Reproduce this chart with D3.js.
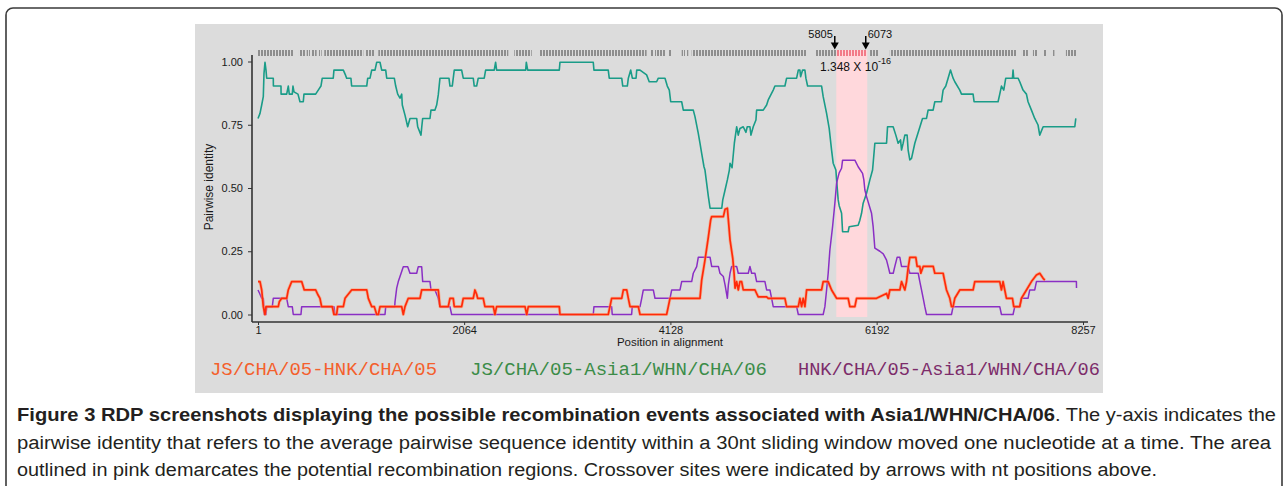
<!DOCTYPE html>
<html><head><meta charset="utf-8">
<script src="https://cdn.jsdelivr.net/npm/d3@7"></script>
<style>html,body{margin:0;padding:0;background:#fff;}svg{display:block;}</style>
</head><body>
<svg id="chart" width="1287" height="486"></svg>
<script>
// ---------- DATA ----------
const xTicks = [1, 2064, 4128, 6192, 8257];
const yTicks = [0, 0.25, 0.5, 0.75, 1.0];
const seriesNames = ["JS/CHA/05-HNK/CHA/05", "JS/CHA/05-Asia1/WHN/CHA/06", "HNK/CHA/05-Asia1/WHN/CHA/06"];
const breakpoints = [5805, 6073];
const regionSpan = [5788, 6098];
const pValueText = "1.348 X 10";
const pValueExp = "-16";
// informative-site clusters along the top track [start, end] in nt
const siteClusters = [[1,354],[411,471],[488,521],[538,588],[611,638],[664,1055],[1079,1172],[1205,2506],[2566,2740],[2813,3890],[3924,3957],[3974,4074],[4107,4141],[4241,4274],[4291,4307],[4341,5492],[5575,5792],[5792,6092],[6126,6209],[6324,7596],[7646,7706],[7756,7806],[7866,7896],[7956,7966],[8086,8196]];
// JS/CHA/05 - Asia1/WHN/CHA/06 (teal)
const tealSeries = [[1,0.775],[21,0.795],[38,0.828],[54,0.861],[61,0.953],[71,0.997],[81,0.966],[88,0.934],[154,0.934],[155,0.903],[231,0.903],[232,0.871],[288,0.871],[304,0.903],[314,0.871],[344,0.871],[351,0.903],[361,0.88],[401,0.871],[421,0.841],[454,0.841],[461,0.871],[578,0.871],[604,0.887],[631,0.903],[644,0.934],[754,0.934],[761,0.966],[855,0.966],[878,0.945],[888,0.934],[931,0.934],[938,0.903],[1089,0.903],[1099,0.934],[1122,0.934],[1139,0.966],[1172,0.966],[1189,0.997],[1222,0.997],[1239,0.966],[1279,0.966],[1289,0.934],[1365,0.934],[1379,0.903],[1399,0.871],[1422,0.855],[1439,0.871],[1445,0.828],[1472,0.788],[1499,0.742],[1522,0.775],[1589,0.775],[1599,0.742],[1632,0.709],[1640,0.742],[1649,0.775],[1722,0.775],[1732,0.808],[1772,0.808],[1789,0.828],[1805,0.868],[1822,0.934],[1912,0.934],[1922,0.903],[1945,0.903],[1955,0.934],[1965,0.966],[2039,0.966],[2055,0.934],[2155,0.934],[2165,0.903],[2189,0.903],[2205,0.934],[2265,0.934],[2279,0.966],[2365,0.966],[2379,0.997],[2389,0.966],[2680,0.966],[2686,0.997],[2700,0.966],[3016,0.966],[3023,0.997],[3356,0.997],[3363,0.966],[3506,0.966],[3516,0.934],[3641,0.934],[3651,0.903],[3697,0.903],[3707,0.934],[3731,0.966],[3747,0.934],[3784,0.934],[3791,0.966],[3824,0.966],[3890,0.947],[3916,0.92],[3990,0.92],[4007,0.934],[4074,0.934],[4097,0.903],[4117,0.887],[4131,0.841],[4241,0.841],[4257,0.808],[4357,0.808],[4374,0.782],[4407,0.716],[4424,0.677],[4441,0.637],[4464,0.584],[4474,0.571],[4508,0.466],[4525,0.42],[4642,0.42],[4652,0.453],[4675,0.492],[4698,0.532],[4718,0.571],[4725,0.598],[4745,0.58],[4768,0.677],[4791,0.742],[4807,0.709],[4824,0.735],[4857,0.742],[4884,0.72],[4897,0.742],[4924,0.742],[4934,0.709],[4957,0.742],[4984,0.769],[4991,0.808],[5057,0.808],[5091,0.828],[5107,0.848],[5157,0.887],[5174,0.903],[5274,0.903],[5291,0.934],[5391,0.934],[5408,0.966],[5424,0.966],[5431,0.94],[5451,0.966],[5474,0.966],[5484,0.934],[5501,0.903],[5641,0.903],[5657,0.861],[5691,0.795],[5717,0.736],[5741,0.65],[5757,0.598],[5784,0.571],[5791,0.532],[5807,0.453],[5817,0.43],[5841,0.40],[5851,0.327],[5907,0.327],[5917,0.347],[6007,0.353],[6024,0.373],[6041,0.40],[6057,0.44],[6091,0.479],[6124,0.532],[6151,0.571],[6157,0.598],[6174,0.677],[6291,0.677],[6301,0.742],[6357,0.742],[6384,0.709],[6407,0.677],[6431,0.69],[6441,0.65],[6457,0.677],[6474,0.709],[6497,0.709],[6507,0.65],[6524,0.611],[6541,0.617],[6574,0.677],[6651,0.775],[6691,0.775],[6707,0.808],[6757,0.808],[6774,0.841],[6841,0.841],[6857,0.887],[6884,0.903],[6907,0.934],[6931,0.966],[6957,0.934],[6974,0.92],[7024,0.887],[7041,0.871],[7157,0.871],[7167,0.841],[7407,0.841],[7424,0.871],[7441,0.903],[7464,0.887],[7484,0.934],[7551,0.934],[7557,0.966],[7564,0.934],[7607,0.934],[7624,0.92],[7657,0.887],[7691,0.871],[7707,0.841],[7741,0.808],[7774,0.775],[7807,0.749],[7824,0.709],[7858,0.742],[8175,0.742],[8185,0.775]];
// JS/CHA/05 - HNK/CHA/05 (red)
const redSeries = [[1,0.13],[21,0.13],[38,0.097],[54,0.031],[71,0.0],[81,0.031],[204,0.031],[214,0.05],[238,0.064],[288,0.064],[304,0.097],[338,0.13],[438,0.13],[464,0.097],[578,0.097],[598,0.08],[621,0.064],[638,0.031],[744,0.031],[761,0.0],[788,0.0],[798,0.031],[855,0.031],[872,0.064],[938,0.097],[1089,0.097],[1105,0.064],[1139,0.031],[1165,0.031],[1189,0.0],[1205,0.0],[1222,0.031],[1439,0.031],[1455,0.0],[1472,0.031],[1505,0.064],[1622,0.064],[1639,0.097],[1805,0.097],[1822,0.031],[1905,0.031],[1922,0.064],[1955,0.064],[1965,0.031],[2039,0.031],[2055,0.064],[2155,0.064],[2172,0.097],[2189,0.08],[2199,0.064],[2255,0.064],[2272,0.031],[2356,0.031],[2372,0.0],[2389,0.031],[2673,0.031],[2690,0.0],[2706,0.031],[3016,0.031],[3023,0.0],[3506,0.0],[3523,0.031],[3540,0.064],[3641,0.064],[3657,0.097],[3691,0.097],[3707,0.064],[3724,0.031],[3807,0.031],[3824,0.0],[4090,0.0],[4107,0.031],[4124,0.064],[4424,0.064],[4441,0.136],[4474,0.215],[4508,0.307],[4531,0.374],[4541,0.387],[4658,0.387],[4675,0.416],[4698,0.42],[4708,0.374],[4725,0.294],[4752,0.222],[4765,0.163],[4775,0.104],[4791,0.13],[4807,0.097],[4824,0.13],[4841,0.13],[4857,0.097],[4974,0.097],[4991,0.083],[5007,0.07],[5091,0.07],[5107,0.064],[5274,0.064],[5291,0.031],[5408,0.031],[5424,0.064],[5441,0.031],[5457,0.064],[5474,0.031],[5491,0.097],[5641,0.097],[5657,0.13],[5707,0.13],[5724,0.113],[5741,0.097],[5791,0.064],[5907,0.064],[5924,0.031],[5974,0.031],[5991,0.064],[6191,0.064],[6291,0.083],[6307,0.064],[6324,0.097],[6424,0.097],[6441,0.13],[6474,0.097],[6491,0.13],[6507,0.183],[6524,0.226],[6584,0.226],[6597,0.19],[6624,0.19],[6634,0.163],[6658,0.19],[6758,0.19],[6774,0.163],[6857,0.163],[6874,0.13],[6891,0.097],[6924,0.064],[6941,0.031],[6957,0.031],[6974,0.064],[7024,0.097],[7157,0.097],[7174,0.13],[7424,0.13],[7441,0.097],[7457,0.13],[7474,0.097],[7491,0.064],[7551,0.064],[7564,0.031],[7624,0.031],[7641,0.064],[7691,0.097],[7741,0.13],[7791,0.156],[7824,0.163],[7858,0.143],[7875,0.136]];
// HNK/CHA/05 - Asia1/WHN/CHA/06 (purple)
const purpleSeries = [[1,0.097],[21,0.08],[38,0.064],[54,0.064],[64,0.0],[81,0.0],[88,0.031],[144,0.031],[154,0.064],[288,0.064],[304,0.031],[344,0.031],[354,0.0],[431,0.0],[438,0.031],[761,0.031],[771,0.0],[1272,0.0],[1279,0.031],[1369,0.031],[1372,0.05],[1389,0.104],[1405,0.13],[1422,0.15],[1455,0.189],[1499,0.189],[1522,0.163],[1589,0.163],[1605,0.189],[1639,0.189],[1649,0.13],[1722,0.13],[1732,0.097],[1772,0.097],[1805,0.064],[1822,0.031],[1922,0.031],[1939,0.0],[3356,0.0],[3363,0.031],[3540,0.031],[3546,0.0],[3740,0.0],[3746,0.031],[3824,0.031],[3841,0.064],[3857,0.097],[3957,0.097],[3974,0.064],[4124,0.064],[4141,0.097],[4224,0.097],[4241,0.13],[4341,0.13],[4357,0.163],[4391,0.189],[4407,0.226],[4525,0.226],[4541,0.19],[4608,0.19],[4624,0.163],[4658,0.15],[4675,0.117],[4698,0.064],[4708,0.117],[4725,0.163],[4741,0.19],[4791,0.19],[4807,0.163],[4907,0.163],[4924,0.19],[4941,0.163],[4974,0.163],[4991,0.13],[5074,0.13],[5091,0.097],[5124,0.097],[5141,0.064],[5157,0.031],[5391,0.031],[5408,0.0],[5657,0.0],[5674,0.031],[5691,0.097],[5707,0.163],[5724,0.255],[5751,0.347],[5774,0.44],[5791,0.519],[5807,0.545],[5817,0.56],[5841,0.578],[5851,0.61],[5974,0.61],[6007,0.584],[6051,0.558],[6064,0.532],[6074,0.492],[6091,0.466],[6141,0.40],[6157,0.347],[6174,0.262],[6224,0.25],[6258,0.24],[6291,0.215],[6307,0.19],[6324,0.163],[6358,0.163],[6374,0.19],[6397,0.226],[6424,0.226],[6441,0.19],[6507,0.19],[6524,0.163],[6608,0.163],[6624,0.13],[6641,0.097],[6658,0.064],[6674,0.031],[6691,0.0],[6941,0.0],[6957,0.031],[7424,0.031],[7441,0.0],[7557,0.0],[7574,0.031],[7624,0.031],[7641,0.064],[7707,0.064],[7724,0.097],[7774,0.097],[7791,0.13],[8191,0.13],[8192,0.105]];

// ---------- DRAW ----------
const svg = d3.select("#chart");
const x = d3.scaleLinear().domain([1, 8257]).range([258, 1083]);
const y = d3.scaleLinear().domain([0, 1]).range([314.5, 61.5]);

// outer figure box
svg.append("rect").attr("x", 6).attr("y", 8).attr("width", 1276).attr("height", 490)
  .attr("rx", 7).attr("fill", "none").attr("stroke", "#3a3a3a").attr("stroke-width", 1.6);

// gray screenshot panel
svg.append("rect").attr("x", 195).attr("y", 24).attr("width", 908).attr("height", 369).attr("fill", "#dcdcdc");

const defs = svg.append("defs");
const pat = defs.append("pattern").attr("id", "ticksGray").attr("patternUnits", "userSpaceOnUse")
  .attr("width", 3).attr("height", 10);
pat.append("rect").attr("x", 0).attr("y", 0).attr("width", 2).attr("height", 10).attr("fill", "#8e8e8e");
const patR = defs.append("pattern").attr("id", "ticksRed").attr("patternUnits", "userSpaceOnUse")
  .attr("width", 3).attr("height", 10);
patR.append("rect").attr("x", 0).attr("y", 0).attr("width", 2).attr("height", 10).attr("fill", "#f27a88");

// pink recombination region
svg.append("rect").attr("x", x(regionSpan[0])).attr("y", 50)
  .attr("width", x(regionSpan[1]) - x(regionSpan[0])).attr("height", y(0) + 2.5 - 50)
  .attr("fill", "#ffd8dc");

// top track of informative sites
svg.append("g").selectAll("rect").data(siteClusters).join("rect")
  .attr("x", d => x(d[0])).attr("y", 50)
  .attr("width", d => Math.max(1.5, x(d[1]) - x(d[0])))
  .attr("height", 6)
  .attr("fill", d => (d[0] >= regionSpan[0] && d[1] <= regionSpan[1] + 5) ? "url(#ticksRed)" : "url(#ticksGray)");

// axes
const axisColor = "#333";
const gx = svg.append("g").attr("transform", "translate(0,322)")
  .call(d3.axisBottom(x).tickValues(xTicks).tickFormat(d3.format("d")).tickSize(3).tickPadding(1));
gx.select(".domain").remove();
svg.append("line").attr("x1", 252).attr("x2", 1088).attr("y1", 322).attr("y2", 322)
  .attr("stroke", axisColor).attr("stroke-width", 1.6);
const gy = svg.append("g").attr("transform", "translate(252,0)")
  .call(d3.axisLeft(y).tickValues(yTicks).tickFormat(d3.format(".2f")).tickSize(4).tickPadding(5));
gy.select(".domain").remove();
svg.append("line").attr("x1", 252).attr("x2", 252).attr("y1", 55).attr("y2", 322)
  .attr("stroke", axisColor).attr("stroke-width", 1.6);
[gx, gy].forEach(g => {
  g.selectAll("line").attr("stroke", axisColor).attr("stroke-width", 1);
  g.selectAll("text").attr("fill", "#1a1a1a").style("font-family", "Liberation Sans, Arial, sans-serif").style("font-size", "11px");
});

svg.append("text").attr("x", 670).attr("y", 346).attr("text-anchor", "middle")
  .style("font-family", "Liberation Sans, Arial, sans-serif").style("font-size", "11.5px").attr("fill", "#1a1a1a")
  .text("Position in alignment");
svg.append("text").attr("transform", "translate(213,187) rotate(-90)").attr("text-anchor", "middle")
  .style("font-family", "Liberation Sans, Arial, sans-serif").style("font-size", "12px").attr("fill", "#1a1a1a")
  .text("Pairwise identity");

// series lines
const line = d3.line().x(d => x(d[0])).y(d => y(d[1]));
svg.append("path").datum(tealSeries).attr("d", line).attr("fill", "none")
  .attr("stroke", "#1a9c88").attr("stroke-width", 1.6).attr("stroke-linejoin", "round");
svg.append("path").datum(purpleSeries).attr("d", line).attr("fill", "none")
  .attr("stroke", "#8a2fc4").attr("stroke-width", 1.5).attr("stroke-linejoin", "round");
svg.append("path").datum(redSeries).attr("d", line).attr("fill", "none")
  .attr("stroke", "#ff9a6a").attr("stroke-width", 3.2).attr("stroke-opacity", 0.6).attr("stroke-linejoin", "round");
svg.append("path").datum(redSeries).attr("d", line).attr("fill", "none")
  .attr("stroke", "#ff2a0a").attr("stroke-width", 1.7).attr("stroke-linejoin", "round");

// breakpoint arrows
const arrowX = [regionSpan[0], regionSpan[1]];
breakpoints.forEach((bp, i) => {
  const ax = x(arrowX[i]) - 1.5;
  svg.append("line").attr("x1", ax).attr("x2", ax).attr("y1", 36).attr("y2", 45)
    .attr("stroke", "#000").attr("stroke-width", 1.5);
  svg.append("path").attr("d", `M${ax - 4},42.5 L${ax + 4},42.5 L${ax},49.5 Z`).attr("fill", "#000");
  svg.append("text").attr("x", i === 0 ? ax - 2 : ax + 2).attr("y", 38)
    .attr("text-anchor", i === 0 ? "end" : "start")
    .style("font-family", "Liberation Sans, Arial, sans-serif").style("font-size", "11px").attr("fill", "#111")
    .text(bp);
});
const pv = svg.append("text").attr("x", 820).attr("y", 71)
  .style("font-family", "Liberation Sans, Arial, sans-serif").style("font-size", "12px").attr("fill", "#111");
pv.append("tspan").text(pValueText);
pv.append("tspan").attr("dy", -7).style("font-size", "9px").text(pValueExp);

// legend
const legendColors = ["#f4602c", "#3b8c48", "#7c2c6a"];
const legendX = [210, 470, 798];
const legendW = [227, 297, 302];
seriesNames.forEach((n, i) => {
  svg.append("text").attr("x", legendX[i]).attr("y", 375)
    .attr("textLength", legendW[i]).attr("lengthAdjust", "spacingAndGlyphs")
    .style("font-family", "Liberation Mono, Courier New, monospace").style("font-size", "19px")
    .attr("fill", legendColors[i]).text(n);
});

// caption
const capFont = "'Liberation Sans Narrow', 'Liberation Sans', Arial, sans-serif";
const capLines = [
  {x: 17, y: 421, w: 1038, bold: true, t: "Figure 3 RDP screenshots displaying the possible recombination events associated with Asia1/WHN/CHA/06"},
  {x: 1055, y: 421, w: 221, bold: false, t: ". The y-axis indicates the"},
  {x: 17, y: 449, w: 1254, bold: false, t: "pairwise identity that refers to the average pairwise sequence identity within a 30nt sliding window moved one nucleotide at a time. The area"},
  {x: 17, y: 476, w: 1140, bold: false, t: "outlined in pink demarcates the potential recombination regions. Crossover sites were indicated by arrows with nt positions above."}
];
capLines.forEach(c => {
  svg.append("text").attr("x", c.x).attr("y", c.y)
    .attr("textLength", c.w).attr("lengthAdjust", "spacingAndGlyphs")
    .style("font-family", capFont).style("font-size", "18px")
    .style("font-weight", c.bold ? "bold" : "normal").attr("fill", "#231f20").text(c.t);
});
</script>
</body></html>
